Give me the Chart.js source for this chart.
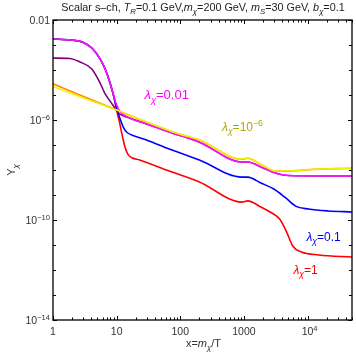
<!DOCTYPE html>
<html>
<head>
<meta charset="utf-8">
<script src="https://cdn.jsdelivr.net/npm/chart.js@4.4.0/dist/chart.umd.min.js"></script>
<style>
  html, body { margin: 0; padding: 0; background: #fff; }
  #wrap { width: 356px; height: 359px; position: relative; }
</style>
</head>
<body>
<div id="wrap"><canvas id="chart"></canvas></div>
<script>
// values (x = m/T, Y = yield)
const magentaX = [1, 1.84, 2.94, 4.07, 5.4, 6.7, 7.8, 10, 11.5, 16, 29.5, 67, 200, 930, 1150, 2000, 3500, 5000, 15000, 50000];
const magentaY = [1.74e-3, 1.6e-3, 1.3e-3, 7.6e-4, 3e-4, 1e-4, 3.3e-5, 4e-6, 2.1e-6, 1.2e-6, 7e-7, 3.3e-7, 1.3e-7, 2.1e-8, 2.1e-8, 1.2e-8, 6.9e-9, 6e-9, 5.8e-9, 5.8e-9];

const purpleX = [1, 1.84, 2.65, 4.07, 5.4, 6.5, 8.7, 10.7, 16, 29.5, 67, 200, 930, 1150, 2000, 3500, 5000, 15000, 50000];
const purpleY = [3e-4, 2.9e-4, 2.1e-4, 1.1e-4, 3.3e-5, 1.2e-5, 4e-6, 1.9e-6, 1.2e-6, 7e-7, 3.3e-7, 1.3e-7, 2.1e-8, 2.1e-8, 1.2e-8, 6.9e-9, 6e-9, 5.8e-9, 5.8e-9];

const yellowX = [1, 3.16, 10, 29.5, 96, 200, 930, 1150, 1850, 3160, 5000, 10400, 50000];
const yellowY = [2.2e-5, 7.3e-6, 2.5e-6, 8.3e-7, 2.75e-7, 1.6e-7, 2.75e-8, 3e-8, 1.7e-8, 9.1e-9, 9.1e-9, 1.05e-8, 1.2e-8];

const orangeX = [1, 3.16, 10, 29.5, 96, 200, 930, 1150, 1850, 3160, 5000, 10400, 50000];
const orangeY = [2.8e-5, 8.3e-6, 2.5e-6, 8.2e-7, 2.7e-7, 1.58e-7, 2.7e-8, 2.95e-8, 1.68e-8, 9e-9, 9e-9, 1.03e-8, 1.18e-8];

const blueX = [1, 1.84, 2.94, 4.07, 5.4, 6.7, 7.8, 8.9, 10, 11.5, 12.9, 14.3, 19, 29.5, 67, 200, 930, 1150, 1850, 2950, 4550, 6500, 10400, 21000, 50000];
const blueY = [1.74e-3, 1.6e-3, 1.3e-3, 7.6e-4, 3e-4, 1e-4, 3.3e-5, 1e-5, 3e-6, 1e-6, 4.8e-7, 3.3e-7, 2.3e-7, 1.6e-7, 6.9e-8, 2.5e-8, 5.2e-9, 5.2e-9, 3e-9, 1.74e-9, 7.6e-10, 3.6e-10, 2.75e-10, 2.3e-10, 2.1e-10];

const redX = [1, 1.84, 2.94, 4.07, 5.4, 6.7, 7.8, 8.9, 10, 11, 12.2, 13.6, 15.1, 17.4, 23, 67, 200, 930, 1150, 1850, 2750, 3650, 4700, 5850, 8000, 15000, 50000];
const redY = [1.74e-3, 1.6e-3, 1.3e-3, 7.6e-4, 3e-4, 1e-4, 3.3e-5, 1e-5, 2.5e-6, 9e-7, 2.5e-7, 8e-8, 4.2e-8, 3.1e-8, 2.5e-8, 9.1e-9, 3.3e-9, 5.2e-10, 5.8e-10, 3.3e-10, 1.9e-10, 1.1e-10, 3.3e-11, 9.1e-12, 5.2e-12, 4e-12, 3.3e-12];

const xMajor = [1, 10, 100, 1000, 10000];
const xMajorText = [['1'], ['10'], ['100'], ['1000'], ['10', '4']];
const yMajor = [1e-2, 1e-6, 1e-10, 1e-14];
const yMajorText = [['0.01'], ['10', '\u22126'], ['10', '\u221210'], ['10', '\u221214']];

const curveLabels = [
  { x: 27.4, y: 1e-5, value: '0.01', sup: null, color: '#ff00ff' },
  { x: 453, y: 5.2e-7, value: '10', sup: '\u22126', color: '#b0a800' },
  { x: 9600, y: 2.1e-11, value: '0.1', sup: null, color: '#0000ff' },
  { x: 6000, y: 1e-12, value: '1', sup: null, color: '#ff0000' }
];

const FONT = "'Liberation Sans', Arial, sans-serif";

function zip(xs, ys) {
  return xs.map((x, i) => ({ x: x, y: ys[i] }));
}

// draws a list of text pieces: {t, i: italic, s: 'sub' | 'sup'}
function pieceFont(p, size) {
  const sz = p.s ? size * 0.72 : size;
  return (p.i ? 'italic ' : '') + sz + 'px ' + FONT;
}
function richWidth(ctx, pieces, size) {
  let w = 0;
  pieces.forEach(p => { ctx.font = pieceFont(p, size); w += ctx.measureText(p.t).width; });
  return w;
}
function drawRich(ctx, pieces, x, y, size, align) {
  const w = richWidth(ctx, pieces, size);
  let cx = x;
  if (align === 'center') cx = x - w / 2;
  if (align === 'right') cx = x - w;
  ctx.textBaseline = 'alphabetic';
  ctx.textAlign = 'left';
  pieces.forEach(p => {
    ctx.font = pieceFont(p, size);
    let dy = 0;
    if (p.s === 'sub') dy = size * 0.28;
    if (p.s === 'sup') dy = -size * 0.42;
    ctx.fillText(p.t, cx, y + dy);
    cx += ctx.measureText(p.t).width;
  });
}

const framePlugin = {
  id: 'frame',
  afterDraw(chart) {
    const ctx = chart.ctx;
    const a = chart.chartArea;
    const xs = chart.scales.x;
    const ys = chart.scales.y;
    ctx.save();
    ctx.strokeStyle = '#000';
    ctx.lineWidth = 1.3;
    ctx.strokeRect(a.left, a.top, a.right - a.left, a.bottom - a.top);

    ctx.lineWidth = 1;
    ctx.beginPath();
    // x ticks, bottom and top
    for (let k = 0; k <= 4; k++) {
      for (let m = 1; m <= 9; m++) {
        const v = m * Math.pow(10, k);
        if (v > xs.max) break;
        const px = Math.round(xs.getPixelForValue(v)) + 0.5;
        const len = m === 1 ? 4 : 2.5;
        ctx.moveTo(px, a.bottom); ctx.lineTo(px, a.bottom - len);
        ctx.moveTo(px, a.top); ctx.lineTo(px, a.top + len);
      }
    }
    // y ticks, every decade, left and right
    for (let e = -14; e <= -2; e++) {
      const py = Math.round(ys.getPixelForValue(Math.pow(10, e))) + 0.5;
      const len = (e + 2) % 4 === 0 ? 4 : 3;
      ctx.moveTo(a.left, py); ctx.lineTo(a.left + len, py);
      ctx.moveTo(a.right, py); ctx.lineTo(a.right - len, py);
    }
    ctx.stroke();

    ctx.fillStyle = '#333';
    // x tick labels
    xMajor.forEach((v, i) => {
      const px = xs.getPixelForValue(v);
      const tx = xMajorText[i];
      const pieces = [{ t: tx[0] }];
      if (tx[1]) pieces.push({ t: tx[1], s: 'sup' });
      let shift = tx[1] ? richWidth(ctx, pieces, 10.5) / 2 - richWidth(ctx, [{ t: tx[0] }], 10.5) / 2 : 0;
      drawRich(ctx, pieces, px + shift, a.bottom + 15, 10.5, 'center');
    });
    // y tick labels
    yMajor.forEach((v, i) => {
      const py = ys.getPixelForValue(v);
      const tx = yMajorText[i];
      const pieces = [{ t: tx[0] }];
      if (tx[1]) pieces.push({ t: tx[1], s: 'sup' });
      drawRich(ctx, pieces, a.left - 3, py + 4, 10.5, 'right');
    });

    // axis titles
    drawRich(ctx, [{ t: 'x=' }, { t: 'm', i: 1 }, { t: '\u03c7', i: 1, s: 'sub' }, { t: '/T' }],
      (a.left + a.right) / 2 + 1, a.bottom + 27, 11, 'center');
    ctx.save();
    ctx.translate(15, (a.top + a.bottom) / 2);
    ctx.rotate(-Math.PI / 2);
    drawRich(ctx, [{ t: 'Y' }, { t: '\u03c7', i: 1, s: 'sub' }], 0, 0, 11, 'center');
    ctx.restore();

    // title
    ctx.fillStyle = '#222';
    drawRich(ctx, [
      { t: 'Scalar s\u2013ch, ' }, { t: 'T', i: 1 }, { t: 'R', i: 1, s: 'sub' }, { t: '=0.1 GeV,' },
      { t: 'm', i: 1 }, { t: '\u03c7', i: 1, s: 'sub' }, { t: '=200 GeV, ' },
      { t: 'm', i: 1 }, { t: 'S', i: 1, s: 'sub' }, { t: '=30 GeV, ' },
      { t: 'b', i: 1 }, { t: '\u03c7', i: 1, s: 'sub' }, { t: '=0.1' }
    ], 203, 11, 10.8, 'center');

    // curve labels
    curveLabels.forEach(l => {
      ctx.fillStyle = l.color;
      const size = l.value === '0.01' ? 13 : 12;
      const pieces = [{ t: '\u03bb', i: 1 }, { t: '\u03c7', i: 1, s: 'sub' }, { t: '=' + l.value }];
      if (l.sup) pieces.push({ t: l.sup, s: 'sup' });
      drawRich(ctx, pieces, xs.getPixelForValue(l.x), ys.getPixelForValue(l.y) + 4, size, 'left');
    });
    ctx.restore();
  }
};

function line(data, color) {
  return {
    data: data,
    borderColor: color,
    backgroundColor: color,
    borderWidth: 1.6,
    pointRadius: 0,
    showLine: true,
    fill: false,
    cubicInterpolationMode: 'monotone'
  };
}

new Chart(document.getElementById('chart'), {
  type: 'scatter',
  data: {
    datasets: [
      line(zip(yellowX, yellowY), '#f2f200'),
      line(zip(magentaX, magentaY), '#ff10ff'),
      line(zip(purpleX, purpleY), '#800080'),
      line(zip(orangeX, orangeY), '#ff8c00'),
      line(zip(blueX, blueY), '#0000ff'),
      line(zip(redX, redY), '#ff0000')
    ]
  },
  options: {
    responsive: true,
    maintainAspectRatio: false,
    animation: false,
    devicePixelRatio: 1,
    layout: { padding: { top: 20, right: 4, left: 0, bottom: 0 } },
    plugins: { legend: { display: false }, tooltip: { enabled: false }, title: { display: false } },
    scales: {
      x: {
        type: 'logarithmic', min: 1, max: 50000,
        ticks: { display: false }, grid: { display: false }, border: { display: false },
        afterFit: s => { s.height = 39; }
      },
      y: {
        type: 'logarithmic', min: 1e-14, max: 1e-2,
        ticks: { display: false }, grid: { display: false }, border: { display: false },
        afterFit: s => { s.width = 53; }
      }
    }
  },
  plugins: [framePlugin]
});
</script>
</body>
</html>
